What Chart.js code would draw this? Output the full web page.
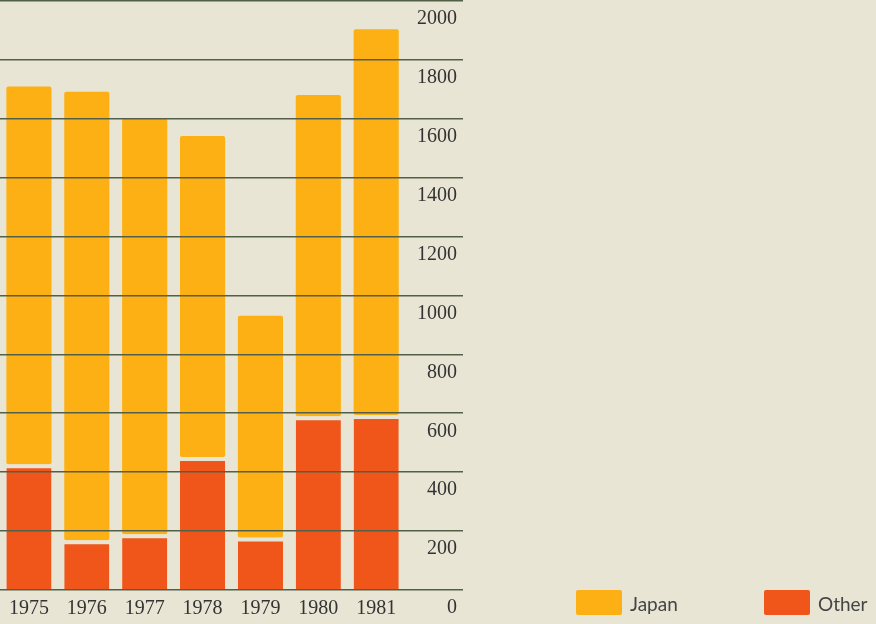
<!DOCTYPE html>
<html>
<head>
<meta charset="utf-8">
<script src="https://cdn.jsdelivr.net/npm/chart.js@4/dist/chart.umd.min.js"></script>
<style>
    html, body { margin: 0; padding: 0; background: #e8e5d5; }
    #wrap { position: relative; width: 876px; height: 624px; overflow: hidden; }
    #chart { position: absolute; left: 0; top: 0; }
    .legend-item { position: absolute; top: 590px; height: 25px; font-family: "Lato", "Noto Sans", sans-serif; font-size: 19px; color: #444; }
    .legend-item span.box { position: absolute; left: 0; top: 0; width: 46px; height: 25px; border-radius: 2px; }
    .legend-item span.text { position: absolute; left: 54px; top: 0; line-height: 27px; white-space: nowrap; }
</style>
</head>
<body>
<div id="wrap">
    <canvas id="chart" width="876" height="624"></canvas>
    <div id="legend"></div>
</div>
<script>
"use strict";

// Chart data:
var years = ["1975", "1976", "1977", "1978", "1979", "1980", "1981"];
var japanValues = [1283, 1523, 1414, 1090, 753, 1091, 1310];
var otherValues = [427, 169, 189, 452, 178, 590, 594];
var yTicks = [0, 200, 400, 600, 800, 1000, 1200, 1400, 1600, 1800, 2000];

var japanColor = "#fdb014";
var otherColor = "#f0561a";
var paperColor = "#e8e5d5";

// An empty slot after the last year leaves room for the axis labels:
var labels = years.concat([""]);

var ctx = document.getElementById("chart").getContext("2d");

var chart = new Chart(ctx, {
    type: "bar",
    data: {
        labels: labels,
        datasets: [{
            label: "Other",
            data: otherValues,
            backgroundColor: otherColor,
            borderColor: paperColor,
            borderWidth: { top: 4, left: 0, right: 0, bottom: 0 },
            borderSkipped: false,
            borderRadius: 2,
            categoryPercentage: 1,
            barPercentage: 0.78
        }, {
            label: "Japan",
            data: japanValues,
            backgroundColor: japanColor,
            borderWidth: 0,
            borderRadius: 2,
            borderSkipped: false,
            categoryPercentage: 1,
            barPercentage: 0.78
        }]
    },
    options: {
        responsive: false,
        animation: false,
        layout: {
            autoPadding: false,
            padding: { left: 0, right: 413, top: 1, bottom: 0 }
        },
        plugins: {
            legend: { display: false },
            tooltip: { enabled: false }
        },
        scales: {
            x: {
                stacked: true,
                grid: { display: false, drawTicks: false },
                border: { display: false },
                afterFit: function (scale) {
                    scale.height = 34;
                    scale.paddingLeft = 0;
                    scale.paddingRight = 0;
                },
                ticks: {
                    color: "#333",
                    padding: 7,
                    font: { family: "Liberation Serif", size: 20 }
                }
            },
            y: {
                stacked: true,
                position: "right",
                min: 0,
                max: 2000,
                afterBuildTicks: function (scale) {
                    scale.ticks = yTicks.map(function (v) { return { value: v }; });
                },
                afterFit: function (scale) {
                    scale.width = 0;
                    scale.paddingTop = 0;
                    scale.paddingBottom = 0;
                },
                grid: {
                    color: "#52604a",
                    lineWidth: 1.6,
                    drawTicks: false,
                    z: 1
                },
                border: { display: false },
                ticks: {
                    mirror: true,
                    padding: -6,
                    labelOffset: 18,
                    color: "#333",
                    font: { family: "Liberation Serif", size: 20 },
                    callback: function (value) { return String(value); }
                }
            }
        }
    }
});

// Legend, built from the datasets:
var legendSpots = { "Japan": 576, "Other": 764 };
var legend = document.getElementById("legend");
["Japan", "Other"].forEach(function (name) {
    var ds = chart.data.datasets.filter(function (d) { return d.label === name; })[0];
    var item = document.createElement("div");
    item.className = "legend-item";
    item.style.left = legendSpots[name] + "px";
    var box = document.createElement("span");
    box.className = "box";
    box.style.background = ds.backgroundColor;
    var text = document.createElement("span");
    text.className = "text";
    text.textContent = name;
    item.appendChild(box);
    item.appendChild(text);
    legend.appendChild(item);
});
</script>
</body>
</html>
